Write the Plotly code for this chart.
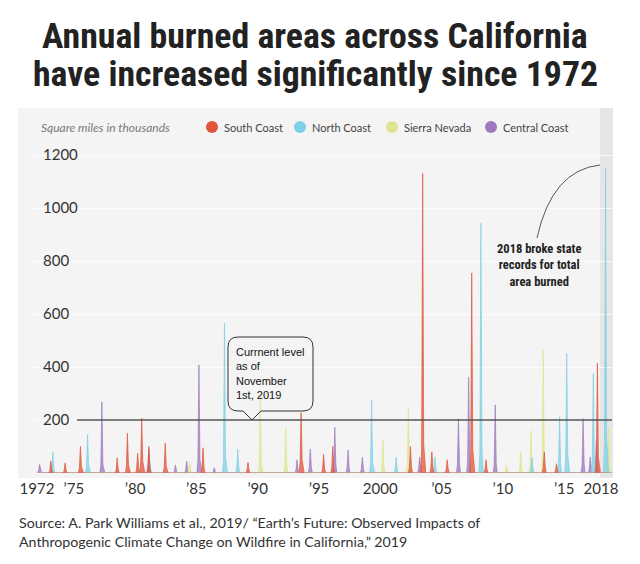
import pandas as pd
import plotly.graph_objects as go

# ---------------- data (square miles, monthly burned area) ----------------
series_names = ["South Coast", "North Coast", "Sierra Nevada", "Central Coast"]
series_colors = ["#e0553b", "#7fd0e6", "#dfe58e", "#9e79be"]

# each event: (first month, consecutive monthly values)
south_coast_events = [
    ("1973-01", [10, 45, 12]), ("1974-03", [8, 38, 10]), ("1975-06", [20, 100, 25, 8]),
    ("1978-06", [12, 57, 15]), ("1979-04", [25, 150, 30, 10]), ("1980-02", [15, 75, 20]),
    ("1980-06", [35, 207, 45, 12]), ("1981-01", [20, 100, 22]), ("1982-05", [22, 113, 25, 8]),
    ("1985-06", [18, 95, 20]), ("1989-02", [10, 40, 12]), ("1993-06", [40, 228, 50, 15]),
    ("1995-04", [15, 70, 18]), ("1996-01", [20, 100, 22]), ("2002-05", [20, 100, 25]),
    ("2003-05", [90, 1130, 110, 25]), ("2004-02", [18, 80, 20]), ("2005-05", [12, 50, 14]),
    ("2007-05", [80, 755, 90, 20]), ("2008-07", [12, 50, 14]), ("2013-04", [18, 80, 20]),
    ("2014-04", [10, 35, 10]), ("2017-08", [50, 415, 60, 15]),
]
north_coast_events = [
    ("1973-03", [15, 80, 18]), ("1976-01", [28, 145, 30, 10]), ("1981-02", [10, 40, 10]),
    ("1987-03", [50, 565, 60, 15]), ("1988-04", [20, 90, 22]), ("1999-03", [35, 275, 40, 10]),
    ("2001-03", [14, 60, 15]), ("2004-05", [14, 60, 15]), ("2008-02", [80, 943, 100, 20]),
    ("2012-04", [15, 60, 15]), ("2014-07", [35, 212, 40]), ("2015-02", [60, 452, 70, 15]),
    ("2017-04", [50, 377, 60, 15]), ("2018-04", [120, 1150, 140, 30]),
]
sierra_nevada_events = [
    ("1984-05", [10, 40, 10]), ("1990-02", [30, 290, 35, 10]), ("1992-03", [25, 172, 30]),
    ("2000-02", [20, 125, 25]), ("2002-03", [30, 245, 35]), ("2010-03", [8, 30, 8]),
    ("2011-05", [15, 80, 18]), ("2012-03", [25, 160, 30]), ("2013-03", [50, 465, 55, 12]),
    ("2018-07", [25, 170, 30]),
]
central_coast_events = [
    ("1972-02", [8, 32, 8]), ("1977-03", [30, 268, 30, 10]), ("1981-01", [18, 90, 20]),
    ("1983-03", [8, 30, 8]), ("1984-02", [10, 45, 10]), ("1985-02", [45, 408, 50, 12]),
    ("1986-05", [5, 20, 6]), ("1993-02", [12, 50, 12]), ("1994-03", [20, 90, 22]),
    ("1996-03", [30, 172, 35]), ("1997-04", [18, 87, 20]), ("1998-06", [14, 60, 15]),
    ("2003-02", [14, 60, 15]), ("2006-04", [30, 205, 40]), ("2007-02", [40, 362, 45]),
    ("2009-04", [30, 257, 35]), ("2016-06", [30, 205, 35]), ("2017-01", [15, 60, 15]),
    ("2017-07", [20, 120, 25]),
]

x_tick_vals = [1972, 1975, 1980, 1985, 1990, 1995, 2000, 2005, 2010, 2015, 2018]
x_tick_text = ["1972", "\u201975", "\u201980", "\u201985", "\u201990", "\u201995", "2000",
               "\u201905", "\u201910", "\u201915", "2018"]
y_tick_vals = [200, 400, 600, 800, 1000, 1200]
current_level = 200

title_lines = ["Annual burned areas across California", "have increased significantly since 1972"]
bubble_text = "Currnent level<br>as of<br>November<br>1st, 2019"
note_text = "2018 broke state<br>records for total<br>area burned"
source_lines = ["Source: A. Park Williams et al., 2019/ \u201cEarth\u2019s Future: Observed Impacts of",
                "Anthropogenic Climate Change on Wildfire in California,\u201d 2019"]

# ---------------- build monthly series ----------------
months = pd.period_range("1972-01", "2018-12", freq="M")
x_dec = [p.year + (p.month - 0.5) / 12 for p in months]


def monthly(events):
    s = pd.Series(0.0, index=months)
    for start, vals in events:
        p0 = pd.Period(start, freq="M")
        for i, v in enumerate(vals):
            p = p0 + i
            if p in s.index:
                s[p] += v
    return s.values


all_events = [south_coast_events, north_coast_events, sierra_nevada_events, central_coast_events]

# ---------------- geometry helpers ----------------
W, H = 640, 564
ML, MR, MT, MB = 30, 28, 150, 91
PW, PH = W - ML - MR, H - MT - MB


def px(x):
    return (x - ML) / PW


def py(y):
    return (H - MB - y) / PH


def rgba(hexc, a):
    h = hexc.lstrip("#")
    return "rgba(%d,%d,%d,%.2f)" % (int(h[0:2], 16), int(h[2:4], 16), int(h[4:6], 16), a)


fig = go.Figure()

# draw order: central, sierra, north, south (south on top)
for idx in [3, 2, 1, 0]:
    fig.add_trace(go.Scatter(
        x=x_dec, y=monthly(all_events[idx]), mode="lines",
        line=dict(color=series_colors[idx], width=0.7),
        fill="tozeroy", fillcolor=rgba(series_colors[idx], 0.75),
        name=series_names[idx], showlegend=False, hoverinfo="skip",
    ))

shapes = [
    dict(type="rect", xref="paper", yref="paper", x0=px(18), x1=px(613), y0=py(478), y1=py(108),
         fillcolor="#f4f4f4", line=dict(width=0), layer="below"),
    dict(type="rect", xref="paper", yref="paper", x0=px(600), x1=px(613), y0=py(478), y1=py(108),
         fillcolor="#e6e6e6", line=dict(width=0), layer="below"),
    dict(type="line", xref="x domain", yref="y", x0=px(77), x1=1, y0=current_level, y1=current_level,
         line=dict(color="#555555", width=1.6), layer="above"),
]

annotations = []

# legend (circle + label)
legend_marker_x = [212, 300, 392, 491]
for name, col, mx in zip(series_names, series_colors, legend_marker_x):
    shapes.append(dict(type="circle", xref="paper", yref="paper",
                       x0=px(mx - 6), x1=px(mx + 6), y0=py(133), y1=py(121),
                       fillcolor=col, line=dict(width=0), layer="above"))
    annotations.append(dict(text=name, xref="paper", yref="paper", x=px(mx + 10), y=py(127.5),
                            xanchor="left", yanchor="middle", showarrow=False,
                            font=dict(family="Lato, sans-serif", size=11, color="#444444")))

# speech bubble
pts = [("M", 238, 337), ("L", 303, 337), ("Q", 313, 337, 313, 347), ("L", 313, 401),
       ("Q", 313, 411, 303, 411), ("L", 261, 411), ("L", 252, 420), ("L", 243, 411),
       ("L", 238, 411), ("Q", 228, 411, 228, 401), ("L", 228, 347), ("Q", 228, 337, 238, 337)]
path = ""
for p in pts:
    cmd = p[0]
    coords = p[1:]
    xy = []
    for i in range(0, len(coords), 2):
        xy.append("%.5f,%.5f" % (px(coords[i]), py(coords[i + 1])))
    path += cmd + " " + " ".join(xy) + " "
path += "Z"
shapes.append(dict(type="path", xref="paper", yref="paper", path=path,
                   line=dict(color="#333333", width=1), layer="above"))

# curve to 2018 spike
curve = "M %.5f,%.5f Q %.5f,%.5f %.5f,%.5f" % (px(537), py(238), px(552), py(170), px(600), py(165))
shapes.append(dict(type="path", xref="paper", yref="paper", path=curve,
                   line=dict(color="#555555", width=1), layer="above"))

title_font = dict(family="Liberation Sans Narrow, Roboto Condensed, DejaVu Sans Condensed, Arial Narrow, sans-serif",
                  size=35.8, color="#222222", weight=700)
for line, yc in zip(title_lines, [36, 74]):
    annotations.append(dict(text=line, xref="paper", yref="paper", x=px(315), y=py(yc),
                            xanchor="center", yanchor="middle", showarrow=False, font=title_font))

annotations.append(dict(text="Square miles in thousands", xref="paper", yref="paper", x=px(39), y=py(127),
                        xanchor="left", yanchor="middle", showarrow=False,
                        font=dict(family="Lato, sans-serif", size=12, color="#7a7a7a", style="italic")))

annotations.append(dict(text=bubble_text, xref="paper", yref="paper", x=px(234), y=py(373),
                        xanchor="left", yanchor="middle", align="left", showarrow=False,
                        font=dict(family="Liberation Sans, Arial, sans-serif", size=11, color="#111111")))

annotations.append(dict(text=note_text, xref="paper", yref="paper", x=px(539), y=py(265),
                        xanchor="center", yanchor="middle", align="center", showarrow=False,
                        font=dict(family="Liberation Sans Narrow, Roboto Condensed, DejaVu Sans Condensed, sans-serif",
                                  size=12.5, color="#222222", weight=700)))

for line, yc in zip(source_lines, [522, 541]):
    annotations.append(dict(text=line, xref="paper", yref="paper", x=px(17), y=py(yc),
                            xanchor="left", yanchor="middle", showarrow=False,
                            font=dict(family="Lato, sans-serif", size=14.2, color="#333333")))

fig.update_layout(
    width=W, height=H,
    margin=dict(l=ML, r=MR, t=MT, b=MB, pad=0, autoexpand=False),
    paper_bgcolor="white", plot_bgcolor="rgba(0,0,0,0)",
    font=dict(family="Lato, sans-serif", color="#333333"),
    shapes=shapes, annotations=annotations,
    showlegend=False,
    xaxis=dict(range=[1972 - 7 / 12.26, 1972 - 7 / 12.26 + PW / 12.26], tickvals=x_tick_vals,
               ticktext=x_tick_text, showgrid=False, zeroline=False, showline=False,
               tickfont=dict(size=15, color="#333333"), ticks="", fixedrange=True, automargin=False,
               ticklabeloverflow="allow", ticklabelstandoff=5),
    yaxis=dict(range=[0, PH / 0.265], tickvals=y_tick_vals, showgrid=True, gridcolor="#fcfcfc",
               gridwidth=1, zeroline=False, showline=False, ticks="",
               ticklabelposition="inside", ticklabelstandoff=10, automargin=False,
               ticklabeloverflow="allow",
               tickfont=dict(size=15, color="#333333"), fixedrange=True),
)

fig.write_html("out.html", config={"displayModeBar": False},
               post_script="document.body.style.margin='0';document.body.style.padding='0';")
